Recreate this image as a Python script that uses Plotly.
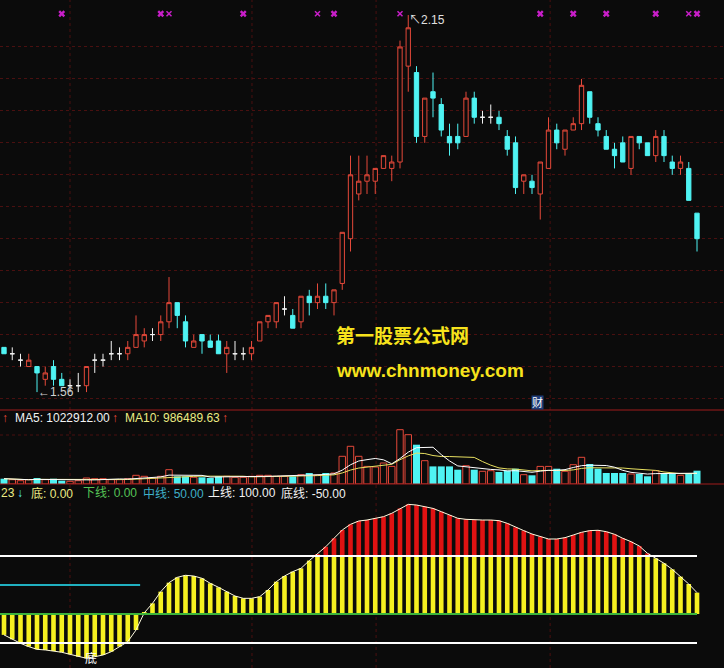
import plotly.graph_objects as go
import pandas as pd

# ---------------- data ----------------
opens = [1.63,1.62,1.61,1.60,1.60,1.58,1.60,1.58,1.57,1.57,
         1.57,1.61,1.61,1.62,1.62,1.62,1.63,1.64,1.65,1.65,
         1.67,1.70,1.67,1.63,1.65,1.64,1.64,1.62,1.62,1.62,
         1.62,1.64,1.67,1.67,1.69,1.68,1.67,1.71,1.70,1.71,
         1.70,1.73,1.80,1.87,1.89,1.89,1.91,1.91,1.92,2.07,
         2.06,1.96,2.03,2.01,1.96,1.96,1.96,2.02,1.99,1.99,
         1.99,1.96,1.95,1.89,1.89,1.87,1.91,1.97,1.94,1.97,
         1.98,2.03,1.98,1.96,1.94,1.95,1.91,1.96,1.95,1.93,
         1.96,1.92,1.91,1.91,1.84]
highs = [1.63,1.63,1.62,1.62,1.60,1.60,1.61,1.59,1.58,1.59,
         1.60,1.62,1.62,1.64,1.63,1.64,1.68,1.66,1.66,1.68,
         1.74,1.70,1.68,1.65,1.65,1.65,1.65,1.64,1.64,1.63,
         1.64,1.67,1.68,1.70,1.71,1.69,1.71,1.72,1.73,1.73,
         1.72,1.81,1.93,1.93,1.93,1.91,1.93,1.93,2.11,2.15,
         2.07,2.02,2.06,2.02,1.98,1.98,2.03,2.03,2.00,2.01,
         2.00,1.97,1.96,1.90,1.90,1.92,1.99,1.98,1.97,1.99,
         2.05,2.03,1.99,1.97,1.95,1.96,1.96,1.96,1.95,1.97,
         1.97,1.93,1.93,1.92,1.84]
lows = [1.62,1.61,1.60,1.60,1.56,1.57,1.57,1.57,1.56,1.56,
        1.56,1.59,1.60,1.61,1.61,1.61,1.63,1.63,1.64,1.64,
        1.66,1.66,1.63,1.63,1.62,1.63,1.62,1.59,1.61,1.61,
        1.61,1.64,1.66,1.66,1.68,1.66,1.66,1.68,1.69,1.69,
        1.68,1.72,1.78,1.86,1.87,1.87,1.91,1.89,1.91,2.03,
        1.95,1.95,1.99,1.96,1.93,1.94,1.96,1.98,1.98,1.98,
        1.97,1.93,1.87,1.87,1.87,1.83,1.91,1.94,1.93,1.97,
        1.97,1.98,1.96,1.94,1.91,1.92,1.90,1.94,1.93,1.92,
        1.92,1.90,1.90,1.86,1.78]
closes = [1.62,1.62,1.61,1.61,1.59,1.59,1.58,1.57,1.57,1.57,
          1.60,1.61,1.61,1.62,1.62,1.63,1.65,1.65,1.65,1.67,
          1.70,1.68,1.64,1.64,1.64,1.63,1.62,1.63,1.62,1.62,
          1.63,1.67,1.68,1.70,1.69,1.66,1.71,1.70,1.71,1.70,
          1.72,1.81,1.90,1.89,1.90,1.91,1.93,1.92,2.10,2.13,
          1.96,2.02,2.02,1.97,1.95,1.95,2.02,1.99,1.99,1.99,
          1.98,1.94,1.88,1.90,1.88,1.92,1.97,1.95,1.97,1.98,
          2.04,1.99,1.97,1.94,1.93,1.92,1.96,1.95,1.93,1.96,
          1.93,1.91,1.92,1.86,1.80]
volumes = [501900,407200,312500,407200,568200,407200,501900,312500,255700,312500,
           568200,501900,501900,407200,407200,501900,823900,729200,568200,729200,
           1354200,729200,729200,634500,634500,568200,729200,729200,634500,634500,
           729200,823900,823900,729200,729200,729200,880700,1041700,823900,1041700,
           1041700,2623200,3570200,2623200,1666700,1609900,1988700,1666700,5142200,4668700,
           3721700,2206500,1666700,1666700,1666700,1354200,1733000,1354200,1202700,1259500,
           1136400,1259500,1448900,880700,823900,1666700,1666700,1448900,1202700,1827700,
           2528500,1894000,1448900,1041700,1041700,1041700,947000,947000,729200,1259500,
           1041700,947000,823900,1041700,1259500]
indicator = [-36,-43.7,-50.6,-56.3,-60.9,-62,-63.8,-66,-69.5,-73.6,
             -76.4,-73.6,-70.7,-65,-56.3,-47.7,-27.6,2,18.4,38.5,
             54,63.2,66.7,65.5,61.5,52.9,46,38.5,31,27,
             27,29.9,41.4,55.7,65.5,73,78.7,92,103.4,116,
             130.5,144.8,154.6,160.3,162,165,167.8,173.6,182,189,
             187.9,185,182,176.4,170.7,165,163.2,162,162,162,
             160.9,156.3,149.4,143.7,137.9,133.3,129.3,129.3,131.6,136.2,
             140.8,143.7,144.3,141.9,137.4,130.5,124.7,117.2,104.6,96,
             87.4,77,64.4,51.7,36.8]
signal_big = [7, 19, 29, 40, 65, 69, 73, 79, 84]
signal_small = [20, 38, 48, 83]
price_grid = [1.55,1.60,1.65,1.70,1.75,1.80,1.85,1.90,1.95,2.00,2.05,2.10]
vgrid_pos = [8.0, 30.06, 45.1, 66.2]
upper_line, mid_line, lower_line, bottom_line = 100, 50, 0, -50
mid_line_end = 16.5

# ---------------- style ----------------
W, H = 724, 668
BG = "#0b0b0b"
RED = "#e5493a"
CYAN = "#4ff3f3"
WHITE = "#f2f2f2"
YEL_T = "#ecec84"
GREEN_T = "#56c456"
TEAL_T = "#3fb0c8"
BAR_Y = "#f5f020"
BAR_R = "#e01212"
GRID = "#4a1010"
FONT = "Liberation Sans, Arial, Noto Sans CJK SC, sans-serif"

n = len(closes)
idx = list(range(n))
up = [i for i in idx if closes[i] > opens[i]]
dn = [i for i in idx if closes[i] < opens[i]]
dj = [i for i in idx if closes[i] == opens[i]]

def py(px):
    return 1 - px / H

fig = go.Figure()

def candles(ids, line_color, fill):
    return go.Candlestick(
        x=ids,
        open=[opens[i] for i in ids], high=[highs[i] for i in ids],
        low=[lows[i] for i in ids], close=[closes[i] for i in ids],
        increasing=dict(line=dict(color=line_color, width=1), fillcolor=fill),
        decreasing=dict(line=dict(color=line_color, width=1), fillcolor=fill),
        whiskerwidth=0, showlegend=False, hoverinfo="skip",
        xaxis="x", yaxis="y")

fig.add_trace(candles(up, RED, BG))
fig.add_trace(candles(dn, CYAN, CYAN))
fig.add_trace(candles(dj, WHITE, WHITE))

sig_level = 2.152
fig.add_trace(go.Scatter(x=signal_big, y=[sig_level]*len(signal_big), mode="markers",
                         marker=dict(symbol="x", size=6, color="#c81ec8"),
                         showlegend=False, hoverinfo="skip", xaxis="x", yaxis="y"))
fig.add_trace(go.Scatter(x=signal_small, y=[sig_level]*len(signal_small), mode="markers",
                         marker=dict(symbol="x-thin", size=5, color="#c81ec8", line=dict(width=1.5, color="#c81ec8")),
                         showlegend=False, hoverinfo="skip", xaxis="x", yaxis="y"))

# volume
vup = [i for i in idx if closes[i] >= opens[i]]
vdn = dn
fig.add_trace(go.Bar(x=vup, y=[volumes[i] for i in vup], width=0.78,
                     marker=dict(color=BG, line=dict(color=RED, width=1)),
                     showlegend=False, hoverinfo="skip", xaxis="x", yaxis="y2"))
fig.add_trace(go.Bar(x=vdn, y=[volumes[i] for i in vdn], width=0.85,
                     marker=dict(color=CYAN, line=dict(width=0)),
                     showlegend=False, hoverinfo="skip", xaxis="x", yaxis="y2"))
vs = pd.Series(volumes)
ma5 = vs.rolling(5, min_periods=1).mean()
ma10 = vs.rolling(10, min_periods=1).mean()
fig.add_trace(go.Scatter(x=idx, y=ma10, mode="lines", line=dict(color="#e8e060", width=1),
                         showlegend=False, hoverinfo="skip", xaxis="x", yaxis="y2"))
fig.add_trace(go.Scatter(x=idx, y=ma5, mode="lines", line=dict(color="#ffffff", width=1),
                         showlegend=False, hoverinfo="skip", xaxis="x", yaxis="y2"))

# indicator
yel = [min(v, upper_line) for v in indicator]
red_ids = [i for i in idx if indicator[i] > upper_line]
fig.add_trace(go.Bar(x=idx, y=yel, base=0, width=0.56, marker=dict(color=BAR_Y, line=dict(width=0)),
                     showlegend=False, hoverinfo="skip", xaxis="x", yaxis="y3"))
fig.add_trace(go.Bar(x=red_ids, y=[indicator[i] - upper_line for i in red_ids], base=upper_line,
                     width=0.56, marker=dict(color=BAR_R, line=dict(width=0)),
                     showlegend=False, hoverinfo="skip", xaxis="x", yaxis="y3"))
fig.add_trace(go.Scatter(x=idx, y=indicator, mode="lines", line=dict(color="#fffbe0", width=1),
                         showlegend=False, hoverinfo="skip", xaxis="x", yaxis="y3"))
xs_full = [-0.6, n - 1]
for lvl, col in [(upper_line, "#ffffff"), (lower_line, "#3cb43c"), (bottom_line, "#ffffff")]:
    fig.add_trace(go.Scatter(x=xs_full, y=[lvl, lvl], mode="lines", line=dict(color=col, width=2),
                             showlegend=False, hoverinfo="skip", xaxis="x", yaxis="y3"))
fig.add_trace(go.Scatter(x=[-0.6, mid_line_end], y=[mid_line, mid_line], mode="lines",
                         line=dict(color="#20b0c0", width=2),
                         showlegend=False, hoverinfo="skip", xaxis="x", yaxis="y3"))

# ---------------- layout ----------------
x_lo = -4 / 8.25
x_hi = (W - 4) / 8.25
shapes = []
for gx in vgrid_pos:
    shapes.append(dict(type="line", xref="x", yref="paper", x0=gx, x1=gx, y0=0, y1=1,
                       line=dict(color=GRID, width=1, dash="dot"), layer="below"))
shapes.append(dict(type="line", xref="paper", yref="paper", x0=0, x1=1, y0=py(435), y1=py(435),
                   line=dict(color=GRID, width=1, dash="dot"), layer="below"))
for sep in (410, 484):
    shapes.append(dict(type="line", xref="paper", yref="paper", x0=0, x1=1, y0=py(sep), y1=py(sep),
                       line=dict(color="#a01c1c", width=1)))

ann = []
def txt(s, xpx, ypx, color, size=12, bold=False, **kw):
    d = dict(text=("<b>%s</b>" % s) if bold else s, xref="paper", yref="paper",
             x=xpx / W, y=py(ypx), xanchor="left", yanchor="middle", showarrow=False,
             font=dict(family=FONT, size=size, color=color))
    d.update(kw)
    ann.append(d)

for s, x, c in [("↑", 0, RED), ("MA5: 1022912.00", 13, WHITE), ("↑", 110, RED),
                ("MA10: 986489.63", 123, YEL_T), ("↑", 220, RED)]:
    txt(s, x, 418, c)
for s, x, c in [("23", -1, YEL_T), ("↓", 15, CYAN), ("底: 0.00", 29, YEL_T),
                ("下线: 0.00", 81, GREEN_T), ("中线: 50.00", 141, TEAL_T),
                ("上线: 100.00", 206, WHITE), ("底线: -50.00", 279, WHITE)]:
    txt(s, x, 493, c)

txt("第一股票公式网", 334, 337, "#f7e31c", size=19, bold=True)
txt("www.chnmoney.com", 334, 370, "#f7e31c", size=19, bold=True)
txt("财", 531, 402, "#ffffff", size=11, bgcolor="#1e3c78", borderpad=0)

hi_i = max(idx, key=lambda i: highs[i])
lo_i = min(idx, key=lambda i: lows[i])
ann.append(dict(text="↖%.2f" % highs[hi_i], xref="x", yref="y", x=hi_i, y=highs[hi_i],
                xanchor="left", yanchor="middle", yshift=-5, xshift=-1, showarrow=False,
                font=dict(family=FONT, size=12, color="#e0e0e0")))
ann.append(dict(text="←%.2f" % lows[lo_i], xref="x", yref="y", x=lo_i, y=lows[lo_i],
                xanchor="left", yanchor="middle", xshift=-1, showarrow=False,
                font=dict(family=FONT, size=12, color="#d0d0d0")))
vmin_i = min(idx, key=lambda i: indicator[i])
ann.append(dict(text="底", xref="x", yref="paper", x=vmin_i, y=0,
                xanchor="left", yanchor="bottom", xshift=-3, yshift=1, borderpad=0,
                showarrow=False, font=dict(family=FONT, size=12, color="#ffffff")))

fig.update_layout(
    width=W, height=H, margin=dict(l=0, r=0, t=0, b=0),
    paper_bgcolor=BG, plot_bgcolor=BG, showlegend=False,
    barmode="overlay", boxgap=0.25,
    xaxis=dict(range=[x_lo, x_hi], domain=[0, 1], anchor="y", showgrid=False, zeroline=False,
               showticklabels=False, ticks="", rangeslider=dict(visible=False), fixedrange=True),
    yaxis=dict(domain=[py(410), 1], range=[1.532, 2.1735], anchor="x",
               tickvals=price_grid, showgrid=True, gridcolor=GRID, griddash="dot", gridwidth=1,
               zeroline=False, showticklabels=False, ticks=""),
    yaxis2=dict(domain=[py(484), py(410)], range=[0, 74 * 94700], anchor="x",
                showgrid=False, zeroline=False, showticklabels=False, ticks=""),
    yaxis3=dict(domain=[0, py(484)], range=[-93.1, 224.1], anchor="x",
                showgrid=False, zeroline=False, showticklabels=False, ticks=""),
    shapes=shapes, annotations=ann,
)

fig.write_html("out.html", config={"displayModeBar": False},
               post_script="document.body.style.margin='0';document.body.style.padding='0';"
                           "document.body.style.background='" + BG + "';"
                           "document.body.style.overflow='hidden';")
